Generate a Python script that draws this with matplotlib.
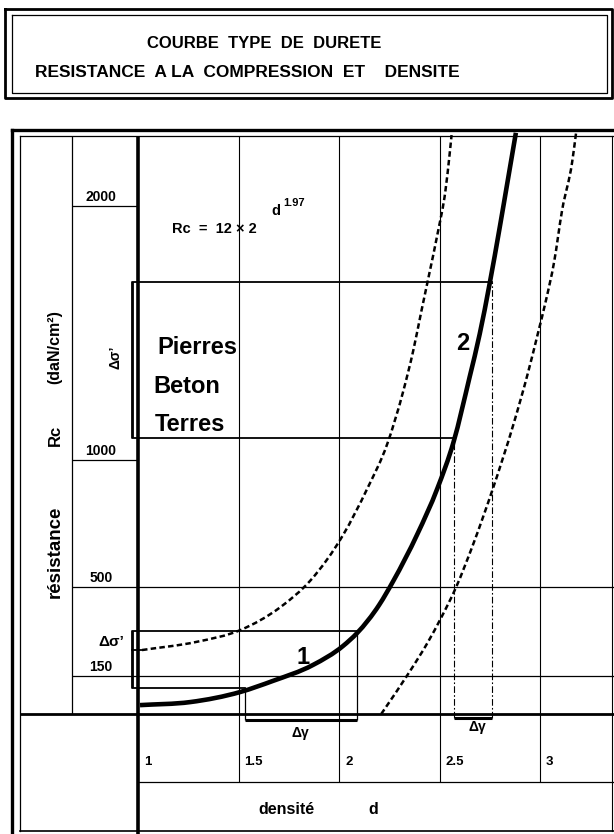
import matplotlib
matplotlib.use("Agg")
import matplotlib.pyplot as plt
from matplotlib import font_manager
from matplotlib.path import Path
from matplotlib.patches import PathPatch
import numpy as np

# ---------------- data ----------------
density_ticks = [1.0, 1.5, 2.0, 2.5, 3.0]
density_labels = ["1", "1.5", "2", "2.5", "3"]
rc_ticks = [150, 500, 1000, 2000]
rc_labels = ["150", "500", "1000", "2000"]

# main curve (thick)  Rc = 12 x 2^(d^1.97)
curve_d = [1.01, 1.26, 1.51, 1.67, 1.87, 2.02, 2.09, 2.20, 2.27, 2.39, 2.49,
           2.57, 2.65, 2.70, 2.75, 2.80, 2.84, 2.88]
curve_rc = [35, 47, 87, 130, 193, 268, 319, 430, 524, 709, 890,
            1072, 1328, 1497, 1698, 1919, 2104, 2290]

# upper dashed envelope
upper_d = [1.02, 1.29, 1.51, 1.71, 1.86, 2.02, 2.14, 2.24, 2.32, 2.37, 2.41,
           2.45, 2.49, 2.53, 2.55, 2.56]
upper_rc = [252, 284, 331, 422, 528, 705, 887, 1064, 1273, 1434, 1588,
            1738, 1891, 2065, 2203, 2281]

# lower dashed envelope
lower_d = [2.21, 2.35, 2.44, 2.51, 2.58, 2.67, 2.76, 2.87, 2.94, 2.99, 3.03,
           3.07, 3.11, 3.16, 3.18]
lower_rc = [0, 165, 280, 382, 495, 674, 875, 1147, 1344, 1501, 1631,
            1780, 1985, 2175, 2293]

# ranges: delta sigma (Rc) and delta gamma (d)
low_sigma = [102, 327]
low_gamma = [1.53, 2.09]
high_sigma = [1087, 1702]
high_gamma = [2.57, 2.76]

# ---------------- fonts ----------------
names = {f.name for f in font_manager.fontManager.ttflist}
NARROW = "Liberation Sans Narrow" if "Liberation Sans Narrow" in names else "Liberation Sans"
FAM = [NARROW, "DejaVu Sans"]
FAM2 = ["Liberation Sans", "DejaVu Sans"]

# ---------------- figure / scales ----------------
W, H = 614, 834
fig = plt.figure(figsize=(W / 100, H / 100), dpi=100)
fig.patch.set_facecolor("white")

PX_D = 201.0      # pixels per unit density
PX_RC = 0.2538    # pixels per daN/cm2
X1, Y0 = 138, 714  # pixel of d=1 and of Rc=0

# pixel overlay for the frame / title
px = fig.add_axes([0, 0, 1, 1])
px.set_xlim(0, W)
px.set_ylim(H, 0)
px.axis("off")

# data axes covering the whole figure
ax = fig.add_axes([0, 0, 1, 1])
ax.set_xlim(1 - X1 / PX_D, 1 + (W - X1) / PX_D)
ax.set_ylim((Y0 - H) / PX_RC, Y0 / PX_RC)
ax.axis("off")
ax.patch.set_alpha(0)

K = "black"
XR = ax.get_xlim()[1]
TOP = (Y0 - 136) / PX_RC
BOTLAB = (Y0 - 782) / PX_RC
LABCOL = 1 - 66 / PX_D
BOXL = 1 - 6 / PX_D


def smooth(xs, ys, **kw):
    """Smooth curve through the read points (cubic Hermite drawn as Bezier)."""
    x = np.asarray(xs, float)
    y = np.asarray(ys, float)
    h = np.diff(x)
    s = np.diff(y) / h
    m = np.empty_like(x)
    m[0], m[-1] = s[0], s[-1]
    m[1:-1] = (h[:-1] * s[1:] + h[1:] * s[:-1]) / (h[:-1] + h[1:])
    verts = [(x[0], y[0])]
    codes = [Path.MOVETO]
    for i in range(len(x) - 1):
        verts += [(x[i] + h[i] / 3, y[i] + m[i] * h[i] / 3),
                  (x[i + 1] - h[i] / 3, y[i + 1] - m[i + 1] * h[i] / 3),
                  (x[i + 1], y[i + 1])]
        codes += [Path.CURVE4] * 3
    ax.add_patch(PathPatch(Path(verts, codes), fill=False, **kw))


# ---------- title box ----------
px.plot([5, 612, 612, 5, 5], [9, 9, 98, 98, 9], color=K, lw=2.0)
px.plot([12, 607, 607, 12, 12], [15, 15, 93, 93, 15], color=K, lw=0.9)
px.text(264, 43, "COURBE  TYPE  DE  DURETE", ha="center", va="center",
        fontsize=12, fontweight="bold", family=FAM2)
px.text(35, 72, "RESISTANCE  A LA  COMPRESSION  ET    DENSITE", ha="left",
        va="center", fontsize=12.5, fontweight="bold", family=FAM2)

# ---------- chart frame ----------
px.plot([12, W], [130, 130], color=K, lw=2.4)
px.plot([20, W], [136, 136], color=K, lw=0.9)
px.plot([12, 12], [130, H], color=K, lw=2.4)
px.plot([20, 20], [136, 831], color=K, lw=0.9)
px.plot([20, W], [831, 831], color=K, lw=1.2)
px.plot([612, 612], [136, 831], color=K, lw=0.8)

# ---------- grid in data coordinates ----------
ax.vlines(density_ticks[1:], BOTLAB, TOP, color=K, lw=0.8)
ax.vlines(density_ticks[0], ax.get_ylim()[0], TOP, color=K, lw=2.6)
ax.hlines(0, 1 - (X1 - 20) / PX_D, XR, color=K, lw=2.0)
ax.hlines([v for v in rc_ticks if v <= 500], LABCOL, XR, color=K, lw=0.9)
ax.hlines([v for v in rc_ticks if v > 500], LABCOL, 1.0, color=K, lw=0.9)
ax.vlines(LABCOL, 0, TOP, color=K, lw=0.9)
ax.hlines(BOTLAB, 1.0, XR, color=K, lw=0.9)

# tick labels
for v, lab in zip(density_ticks, density_labels):
    ax.text(v + 0.03, -189, lab, ha="left", va="center", fontsize=9.5,
            fontweight="bold", family=FAM)
for v, lab in zip(rc_ticks, rc_labels):
    ax.text(0.815, v + 8, lab, ha="center", va="bottom", fontsize=10,
            fontweight="bold", family=FAM)

# ---------- range boxes ----------
# low range
ax.plot([low_gamma[1], BOXL, BOXL, low_gamma[0]],
        [low_sigma[1], low_sigma[1], low_sigma[0], low_sigma[0]], color=K, lw=1.3)
ax.vlines(BOXL + 0.006, low_sigma[0], low_sigma[1], color=K, lw=1.3)
ax.vlines(low_gamma, -25, [low_sigma[0], low_sigma[1]], color=K, lw=0.9)
ax.hlines(-25, low_gamma[0], low_gamma[1], color=K, lw=2.2)
# high range
ax.plot([high_gamma[1], BOXL, BOXL, high_gamma[0]],
        [high_sigma[1], high_sigma[1], high_sigma[0], high_sigma[0]], color=K, lw=1.3)
ax.vlines(BOXL + 0.006, high_sigma[0], high_sigma[1], color=K, lw=1.3)
ax.vlines(high_gamma, -14, [high_sigma[0], high_sigma[1]], color=K, lw=0.8,
          linestyles=(0, (6, 2, 1.5, 2)))
ax.hlines(-14, high_gamma[0], high_gamma[1], color=K, lw=2.2)

# ---------- curves ----------
smooth(upper_d, upper_rc, edgecolor=K, lw=1.8, linestyle=(0, (2.2, 1.3)))
ax.plot([BOXL, upper_d[0]], [upper_rc[0], upper_rc[0]], color=K, lw=1.3)
smooth(lower_d, lower_rc, edgecolor=K, lw=1.8, linestyle=(0, (2.2, 1.3)))
smooth(curve_d, curve_rc, edgecolor=K, lw=3.3, capstyle="butt")

# ---------- texts ----------
bold = dict(fontweight="bold", family=FAM2, color=K)
px.text(172, 233, "Rc  =  12 \u00d7 2", ha="left", va="baseline", fontsize=10.5, **bold)
px.text(271, 215, "d", ha="left", va="baseline", fontsize=10.5, **bold)
px.text(283, 206, "1.97", ha="left", va="baseline", fontsize=8, **bold)

px.text(157, 347, "Pierres", ha="left", va="center", fontsize=17, **bold)
px.text(153, 386, "Beton", ha="left", va="center", fontsize=17, **bold)
px.text(155, 424, "Terres", ha="left", va="center", fontsize=17, **bold)

px.text(303, 657, "1", ha="center", va="center", fontsize=17, **bold)
px.text(463, 343, "2", ha="center", va="center", fontsize=17, **bold)

px.text(111, 642, "\u0394\u03c3\u2019", ha="center", va="center", fontsize=11, **bold)
px.text(115, 357, "\u0394\u03c3\u2019", ha="center", va="center", fontsize=10,
        rotation=90, **bold)
px.text(300, 733, "\u0394\u03b3", ha="center", va="center", fontsize=10, **bold)
px.text(477, 727, "\u0394\u03b3", ha="center", va="center", fontsize=10, **bold)

px.text(55, 552, "résistance", ha="center", va="center", rotation=90,
        fontsize=13.5, **bold)
px.text(55, 435, "Rc", ha="center", va="center", rotation=90, fontsize=12, **bold)
px.text(55, 347, "(daN/cm\u00b2)", ha="center", va="center", rotation=90,
        fontsize=11.5, **bold)

px.text(258, 809, "densité", ha="left", va="center", fontsize=11.5, **bold)
px.text(368, 809, "d", ha="left", va="center", fontsize=11.5, **bold)

fig.savefig("out.png", dpi=100, facecolor="white")
